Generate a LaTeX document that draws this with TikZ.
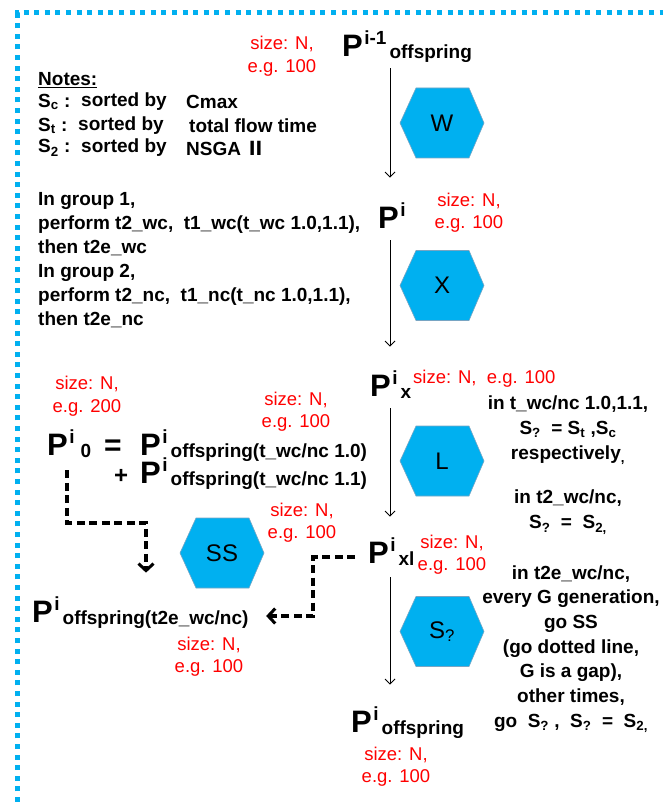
\documentclass[tikz,border=0pt]{standalone}
\usepackage{fontspec}
\setmainfont{Liberation Sans}
\newfontfamily\cjkf{Noto Sans CJK SC}
\usetikzlibrary{arrows.meta}
\definecolor{frameblue}{RGB}{0,176,240}
\definecolor{hexblue}{RGB}{0,176,240}
\definecolor{hexline}{RGB}{120,165,195}
\definecolor{szred}{RGB}{255,0,0}
\newcommand\PP[2]{{\fontsize{31}{31}\selectfont P}\kern1.5pt\raisebox{12pt}{\fontsize{19}{19}\selectfont #1}\kern3pt\raisebox{-2pt}{\fontsize{19}{19}\selectfont #2}}
\newcommand\hexat[4]{%
  \filldraw[hexshape] (#2-42,#3) -- (#2-26,#3-35) -- (#2+27,#3-35) -- (#2+42,#3) -- (#2+27,#3+35) -- (#2-26,#3+35) -- cycle;
  \node[hexlabel] (#1) at (#2,#3) {#4};}
\begin{document}
\begin{tikzpicture}[x=1pt,y=-1pt,
  frame/.style={line width=5pt, draw=frameblue, dash pattern=on 5pt off 5.6pt},
  hexshape/.style={fill=hexblue, draw=hexline, line width=0.6pt},
  hexlabel/.style={font=\fontsize{24}{24}\selectfont, inner sep=0},
  sz/.style={font=\fontsize{18.5}{22.5}\selectfont, text=szred, align=center, inner sep=0},
  blk/.style={font=\bfseries\fontsize{19}{24}\selectfont, inner sep=0},
  pn/.style={font=\bfseries, inner sep=0, anchor=base west},
  arr/.style={line width=0.9pt, -{Straight Barb[length=5pt,width=10pt]}},
  darr/.style={line width=3.2pt, dash pattern=on 8pt off 4.5pt, -{Straight Barb[length=7pt,width=15pt,line width=3pt]}}]
\useasboundingbox (0,0) rectangle (663,802);
% frame
\draw[frame] (17.5,802) -- (17.5,13) -- (663,13);
% notes
\node[blk,anchor=west] (notes) at (38,80) {\underline{Notes:}};
\node[blk,anchor=west] (sc) at (38,102) {S\textsubscript{c} :};
\node[blk,anchor=west] (scb) at (81,102) {sorted by};
\node[blk,anchor=west] (scc) at (186,102) {Cmax};
\node[blk,anchor=west] (st) at (38,126) {S\textsubscript{t} :};
\node[blk,anchor=west] (stb) at (78,126) {sorted by};
\node[blk,anchor=west] (stc) at (189,126) {total flow time};
\node[blk,anchor=west] (s2) at (38,148) {S\textsubscript{2} :};
\node[blk,anchor=west] (s2b) at (81,148) {sorted by};
\node[blk,anchor=west] (s2c) at (186,148) {NSGA {\cjkf Ⅱ}};
% group text
\node[blk,anchor=west,align=left] (grp) at (38,260) {In group 1,\\perform t2\_wc,~ t1\_wc(t\_wc 1.0,1.1),\\then t2e\_wc\\In group 2,\\perform t2\_nc,~ t1\_nc(t\_nc 1.0,1.1),\\then t2e\_nc};
% right texts
\node[blk,align=center,font=\bfseries\fontsize{19}{25}\selectfont] (t1a) at (568,430) {in t\_wc/nc 1.0,1.1,\\S\textsubscript{?}~ = S\textsubscript{t} ,S\textsubscript{c}\\respectively\textsubscript{,}};
\node[blk,align=center,font=\bfseries\fontsize{19}{25}\selectfont] (t1b) at (568,512) {in t2\_wc/nc,\\S\textsubscript{?}~ =~ S\textsubscript{2,}};
\node[blk,align=center,font=\bfseries\fontsize{19}{24.7}\selectfont] (t2) at (571,649) {in t2e\_wc/nc,\\every G generation,\\go SS\\(go dotted line,\\G is a gap),\\other times,\\go~ S\textsubscript{?} ,~ S\textsubscript{?}~ =~ S\textsubscript{2,}};
% hexagons
\hexat{W}{442}{123}{W}
\hexat{X}{442}{285.5}{X}
\hexat{L}{442}{461}{L}
\hexat{SS}{222}{553}{SS}
\hexat{Sq}{442}{631.5}{S\textsubscript{?}}
% size labels
\node[sz] (z1) at (282,56) {size: N,\\e.g. 100};
\node[sz] (z2) at (469,212.5) {size: N,\\e.g. 100};
\node[sz,anchor=west] (z3) at (413,379) {size: N,\ \ e.g. 100};
\node[sz] (z4) at (87,396) {size: N,\\e.g. 200};
\node[sz] (z5) at (296,411.5) {size: N,\\e.g. 100};
\node[sz] (z6) at (302,522.5) {size: N,\\e.g. 100};
\node[sz] (z7) at (452,554.5) {size: N,\\e.g. 100};
\node[sz] (z8) at (209,656.5) {size: N,\\e.g. 100};
\node[sz] (z9) at (396,766.5) {size: N,\\e.g. 100};
% populations
\node[pn] (P1) at (342,57) {\PP{i-1}{offspring}};
\node[pn] (P2) at (378,229) {\PP{i}{}};
\node[pn] (P3) at (370,396) {\PP{i}{x}};
\node[pn] (P4) at (368,563) {\PP{i}{xl}};
\node[pn] (P5) at (351,732) {\PP{i}{offspring}};
\node[pn] (P0) at (47,455) {\PP{i}{\kern3pt 0}};
\node[pn,font=\bfseries\fontsize{30}{30}\selectfont] (eq) at (104,455) {=};
\node[pn] (Pa) at (140,455) {\PP{i}{offspring(t\_wc/nc 1.0)}};
\node[pn,font=\bfseries\fontsize{24}{24}\selectfont] (plus) at (114,483) {+};
\node[pn] (Pb) at (140,483) {\PP{i}{offspring(t\_wc/nc 1.1)}};
\node[pn] (P6) at (32,622) {\PP{i}{offspring(t2e\_wc/nc)}};
% connectors
\coordinate (ax) at (390,0);
\draw[arr, shorten <=5pt, shorten >=25.4pt] (P1.south -| ax) -- (P2.north -| ax);
\draw[arr, shorten <=9pt, shorten >=23.4pt] (P2.south -| ax) -- (P3.north -| ax);
\draw[arr, shorten <=10pt, shorten >=20.4pt] (P3.south -| ax) -- (P4.north -| ax);
\draw[arr, shorten <=12pt, shorten >=21.4pt] (P4.south -| ax) -- (P5.north -| ax);
\coordinate (d1) at (67,0);
\coordinate (d2) at (146,523);
\coordinate (d3) at (0,557);
\coordinate (d4) at (313,616);
\draw[darr, shorten <=13pt, shorten >=23.4pt] (P0.south -| d1) |- (d2) -- (d2 |- P6.north);
\draw[darr, shorten <=13pt, shorten >=17.5pt] (P4.west |- d3) -| (d4) -- (P6.east |- d4);
\end{tikzpicture}
\end{document}
